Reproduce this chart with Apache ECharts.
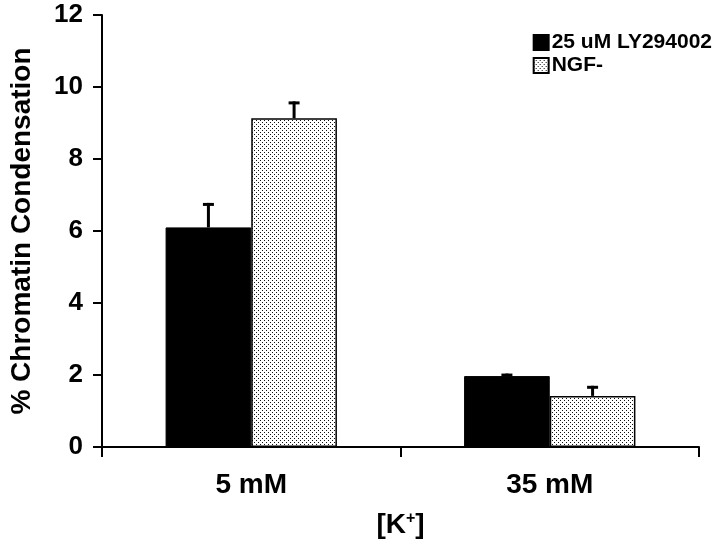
<!DOCTYPE html>
<html><head><meta charset="utf-8">
<script src="https://cdn.jsdelivr.net/npm/echarts@6/dist/echarts.min.js"></script>
<style>html,body{margin:0;padding:0;background:#fff}#c{width:720px;height:549px}</style>
</head><body><div id="c"></div>
<script>
const categories = ['5 mM', '35 mM'];
const seriesNames = ['25 uM LY294002', 'NGF-'];
const lyValues = [6.1, 1.97];
const lyErrors = [0.68, 0.07];
const ngfValues = [9.13, 1.42];
const ngfErrors = [0.47, 0.28];
const yTicks = [0, 2, 4, 6, 8, 10, 12];

const FONT = 'Arial, "Liberation Sans", sans-serif';
const pc = document.createElement('canvas');
pc.width = 4; pc.height = 4;
const pctx = pc.getContext('2d');
pctx.fillStyle = '#fff'; pctx.fillRect(0,0,4,4);
pctx.fillStyle = '#111';
pctx.fillRect(0,0,1,1); pctx.fillRect(2,2,1,1);

const BW = 0.287;
function errSeries(vals, errs, side) {
  return {
    type: 'custom',
    data: vals.map((v,i)=>[i, v, v+errs[i]]),
    z: 5,
    renderItem: function(params, api){
      const cw = api.size([1,0])[0];
      const off = side * cw * BW / 2;
      const p0 = api.coord([api.value(0), api.value(1)]);
      const p1 = api.coord([api.value(0), api.value(2)]);
      const x = p0[0] + off;
      return {type:'group', children:[
        {type:'line', shape:{x1:x,y1:p0[1],x2:x,y2:p1[1]}, style:{stroke:'#000',lineWidth:3}},
        {type:'line', shape:{x1:x-5.5,y1:p1[1]+1.5,x2:x+5.5,y2:p1[1]+1.5}, style:{stroke:'#000',lineWidth:3}}
      ]};
    }
  };
}

const chart = echarts.init(document.getElementById('c'));
chart.setOption({
  animation: false,
  backgroundColor: '#fff',
  grid: {left: 98, right: 21, top: 15, bottom: 102},
  legend: {
    data: seriesNames, orient: 'vertical', right: 3, top: 27, itemGap: 2,
    itemWidth: 15, itemHeight: 15, icon: 'rect',
    textStyle: {fontFamily: FONT, fontWeight: 'bold', fontSize: 21, color: '#000', padding:[0,0,0,-2]}
  },
  xAxis: {
    type: 'category', data: categories,
    axisLine: {lineStyle: {color: '#000', width: 2}},
    axisTick: {show: true, inside: false, length: 10, lineStyle: {color:'#000', width: 2}},
    axisLabel: {fontFamily: FONT, fontWeight: 'bold', fontSize: 28, color: '#000', margin: 24},
    name: '[K{sup|+}]', nameLocation: 'middle', nameGap: 64,
    nameTextStyle: {fontFamily: FONT, fontWeight: 'bold', fontSize: 28, color: '#000',
      rich: {sup: {fontFamily: FONT, fontWeight: 'bold', fontSize: 16, verticalAlign: 'top', padding:[0,0,12,0], color:'#000'}}}
  },
  yAxis: {
    type: 'value', min: 0, max: 12, interval: 2,
    axisLine: {show: true, lineStyle: {color: '#000', width: 2}},
    axisTick: {show: true, length: 9, lineStyle: {color:'#000', width: 2}},
    splitLine: {show: false},
    axisLabel: {fontFamily: FONT, fontWeight: 'bold', fontSize: 26, color: '#000', margin: 19,
      formatter: v => yTicks.includes(v) ? String(v) : ''},
    name: '% Chromatin Condensation', nameLocation: 'middle', nameGap: 66,
    nameTextStyle: {fontFamily: FONT, fontWeight: 'bold', fontSize: 28, color: '#000'}
  },
  series: [
    {name: seriesNames[0], type: 'bar', data: lyValues, barWidth: (BW*100)+'%', barGap: '0%',
      itemStyle: {color: '#000', borderColor: '#000', borderWidth: 1}},
    {name: seriesNames[1], type: 'bar', data: ngfValues, barWidth: (BW*100)+'%', barGap: '0%',
      itemStyle: {color: {image: pc, repeat: 'repeat'}, borderColor: '#000', borderWidth: 1.5}},
    errSeries(lyValues, lyErrors, -1),
    errSeries(ngfValues, ngfErrors, 1)
  ]
});
</script></body></html>
